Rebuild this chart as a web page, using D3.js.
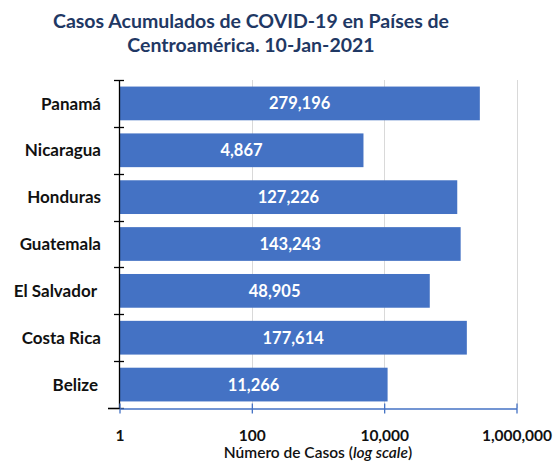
<!DOCTYPE html>
<html><head><meta charset="utf-8">
<script src="https://cdn.jsdelivr.net/npm/d3@7"></script>
<style>
html,body{margin:0;padding:0;background:#fff;}
svg{display:block;font-family:Lato,"Open Sans",sans-serif;}
</style></head>
<body><svg id="c" width="553" height="464"></svg>
<script>
const titleLines = ["Casos Acumulados de COVID-19 en Países de", "Centroamérica. 10-Jan-2021"];
const categories = ["Panamá", "Nicaragua", "Honduras", "Guatemala", "El Salvador", "Costa Rica", "Belize"];
const values = [279196, 4867, 127226, 143243, 48905, 177614, 11266];
const tickValues = [1, 100, 10000, 1000000];
const gridValues = [100, 10000, 1000000];

const svg = d3.select("#c");
const pLeft = 119.5, pRight = 516.5, pTop = 80, pBottom = 408;

const x = d3.scaleLog().domain([1, 1e6]).range([pLeft, pRight]);
const y = d3.scaleBand().domain(categories).range([pTop, pBottom]).paddingInner(0.28).paddingOuter(0.14);

// title
svg.append("g").selectAll("text").data(titleLines).join("text")
  .attr("x", 251).attr("y", (d, i) => 28 + i * 24)
  .attr("text-anchor", "middle")
  .attr("font-size", 19.5).attr("font-weight", 700).attr("fill", "#1F3864")
  .text(d => d);

// gridlines
svg.append("g").selectAll("line").data(gridValues).join("line")
  .attr("x1", d => Math.round(x(d)) + 0.5).attr("x2", d => Math.round(x(d)) + 0.5)
  .attr("y1", pTop).attr("y2", pBottom)
  .attr("stroke", "#d9d9d9").attr("stroke-width", 1);

// bars
svg.append("g").selectAll("rect").data(categories).join("rect")
  .attr("x", x(1)).attr("y", d => y(d))
  .attr("width", (d, i) => x(values[i]) - x(1))
  .attr("height", y.bandwidth())
  .attr("fill", "#4472C4");

// bar labels
const fmt = d3.format(",");
svg.append("g").selectAll("text").data(categories).join("text")
  .attr("x", (d, i) => (x(1) + x(values[i])) / 2)
  .attr("y", d => y(d) + y.bandwidth() / 2)
  .attr("dy", "0.36em")
  .attr("text-anchor", "middle")
  .attr("font-size", 16.5).attr("font-weight", 700).attr("fill", "#fff")
  .text((d, i) => fmt(values[i]));

// category labels
const catOffset = {"El Salvador": 4, "Belize": 3};
svg.append("g").selectAll("text").data(categories).join("text")
  .attr("x", d => 101 - (catOffset[d] || 0))
  .attr("y", d => y(d) + y.bandwidth() / 2)
  .attr("dy", "0.36em")
  .attr("text-anchor", "end")
  .attr("font-size", 17).attr("font-weight", 700).attr("fill", "#111")
  .text(d => d);

// left axis
const yEdges = d3.range(categories.length + 1).map(i => pTop + i * (pBottom - pTop) / categories.length);
const ly = svg.append("g");
ly.append("line").attr("x1", pLeft).attr("x2", pLeft).attr("y1", pTop).attr("y2", pBottom)
  .attr("stroke", "#000").attr("stroke-width", 1.3);
ly.selectAll("line.t").data(yEdges).join("line").attr("class", "t")
  .attr("x1", (d, i) => i === categories.length ? 108 : 114).attr("x2", 124)
  .attr("y1", d => Math.round(d) + 0.5).attr("y2", d => Math.round(d) + 0.5)
  .attr("stroke", "#000").attr("stroke-width", 1.3);

// bottom axis
const axis = d3.axisBottom(x).tickValues(tickValues).tickFormat(d3.format(",")).tickSize(0);
const ax = svg.append("g").attr("transform", `translate(0,${pBottom + 0.5})`).call(axis);
ax.select(".domain").attr("stroke", "#4472C4").attr("stroke-width", 1.3);
ax.selectAll(".tick").append("line").attr("y1", -5).attr("y2", 5)
  .attr("stroke", "#4472C4").attr("stroke-width", 1.3);
ax.selectAll(".tick text").attr("y", 21).attr("font-family", "Lato, sans-serif")
  .attr("font-size", 15.5).attr("font-weight", 700).attr("fill", "#111");
svg.append("line").attr("x1", 108).attr("x2", pLeft).attr("y1", pBottom + 0.5).attr("y2", pBottom + 0.5)
  .attr("stroke", "#000").attr("stroke-width", 1.3);

// axis title
const at = svg.append("text").attr("x", 318).attr("y", 458).attr("text-anchor", "middle")
  .attr("font-size", 15.5).attr("font-weight", 600).attr("fill", "#111");
at.append("tspan").text("Número de Casos (");
at.append("tspan").attr("font-style", "italic").text("log scale");
at.append("tspan").text(")");
</script></body></html>
